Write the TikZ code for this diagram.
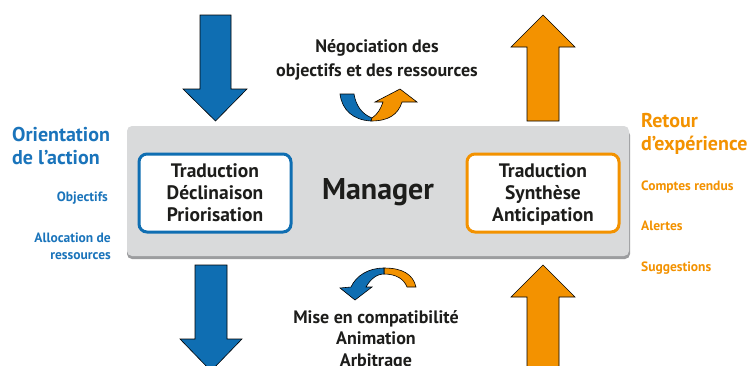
\documentclass[tikz,border=0pt]{standalone}
\usepackage{fontspec}
\setmainfont{PT Sans}
\definecolor{mblue}{HTML}{0F6EB2}
\definecolor{morange}{HTML}{F39200}
\definecolor{tblue}{HTML}{1A74BB}
\definecolor{torange}{HTML}{F39200}
\definecolor{mgray}{HTML}{D9DADB}
\definecolor{mshadow}{HTML}{9C9D9F}
\definecolor{mtext}{HTML}{1D1D1B}
\begin{document}
\begin{tikzpicture}[x=1pt,y=-1pt,
  blockarrow/.style={draw=black,line width=0.6pt,line join=miter},
  innerbox/.style={line width=3pt,rounded corners=8pt,fill=white,minimum width=152pt,minimum height=78pt,inner sep=0pt,align=center,text=mtext,font=\bfseries\fontsize{19.5}{22}\selectfont},
  midtext/.style={align=center,text=mtext,font=\bfseries\fontsize{18}{24}\selectfont,inner sep=0pt},
  headtext/.style={text=#1,font=\bfseries\fontsize{20}{23}\selectfont,inner sep=0pt},
  smalltext/.style={text=#1,font=\bfseries\fontsize{13.5}{17}\selectfont,inner sep=0pt}
]
\clip (0,0) rectangle (752,365);
\fill[white] (0,0) rectangle (752,365);

% gray panel with shadow
\fill[mshadow,rounded corners=5pt] (127,130) rectangle (630,259);
\node[fill=mgray,rounded corners=5pt,minimum width=502pt,minimum height=130pt,inner sep=0pt] (panel) at (378,191) {};

% inner boxes
\node[innerbox,draw=mblue] (left) at (215,193) {Traduction\\Déclinaison\\Priorisation};
\node[innerbox,draw=morange] (right) at (543,193) {Traduction\\Synthèse\\\raisebox{0pt}[\height][0pt]{Anticipation}};
\node[text=mtext,font=\bfseries\fontsize{30}{34}\selectfont,inner sep=0pt] (mgr) at (378,192) {Manager};

% straight block arrows
\filldraw[blockarrow,fill=mblue] (200,15) -- (231,15) -- (231,89) -- (247,89) -- (215.5,121) -- (183,89) -- (200,89) -- cycle;
\filldraw[blockarrow,fill=morange] (527,121) -- (559,121) -- (559,47) -- (575,47) -- (543,15) -- (511,47) -- (527,47) -- cycle;
\filldraw[blockarrow,fill=mblue] (195,265) -- (227,265) -- (227,339) -- (242,339) -- (211,371) -- (180,339) -- (195,339) -- cycle;
\filldraw[blockarrow,fill=morange] (527,372) -- (527,297) -- (511,297) -- (543,265) -- (575,297) -- (559,297) -- (559,372);

% top curved arrow (negotiation)
\filldraw[blockarrow,fill=mblue] (340,94) -- (354,94) .. controls (356,106) and (362,114) .. (372,118) -- (371,121) .. controls (353,120) and (342,110) .. (340,94) -- cycle;
\filldraw[blockarrow,fill=morange] (372,118) .. controls (378,114) and (381,108) .. (383,102) -- (375,102) -- (400,89) -- (417,102) -- (402,102) .. controls (398,115) and (388,121) .. (371,121) -- cycle;

% bottom curved arrow
\filldraw[blockarrow,fill=morange] (416,287) .. controls (413,274) and (402,268) .. (384,268) -- (384,274) .. controls (396,274) and (404,279) .. (407,287) -- cycle;
\filldraw[blockarrow,fill=mblue] (384,268) .. controls (368,268) and (356,276) .. (351,287) -- (340,288) -- (355,300) -- (372,287) -- (366,287) .. controls (370,280) and (376,274) .. (384,274) -- cycle;

% texts
\node[midtext] (nego) at (377,60) {Négociation des\\objectifs et des ressources};
\node[midtext,anchor=north,font=\bfseries\fontsize{18}{21.5}\selectfont] (mise) at (376,310) {Mise en compatibilité\\Animation\\Arbitrage};

\node[headtext=tblue,anchor=west,align=left] (orient) at (12,146) {Orientation\\de l’action};
\node[smalltext=tblue,anchor=east] (obj) at (108,198) {Objectifs};
\node[smalltext=tblue,anchor=east,align=right] (alloc) at (111,246) {Allocation de\\ressources};

\node[headtext=torange,anchor=west,align=left] (retour) at (641,134) {Retour\\d’expérience};
\node[smalltext=torange,anchor=west] (cr) at (641,187) {Comptes rendus};
\node[smalltext=torange,anchor=west] (al) at (641,226) {Alertes};
\node[smalltext=torange,anchor=west] (sug) at (641,268) {Suggestions};
\end{tikzpicture}
\end{document}
